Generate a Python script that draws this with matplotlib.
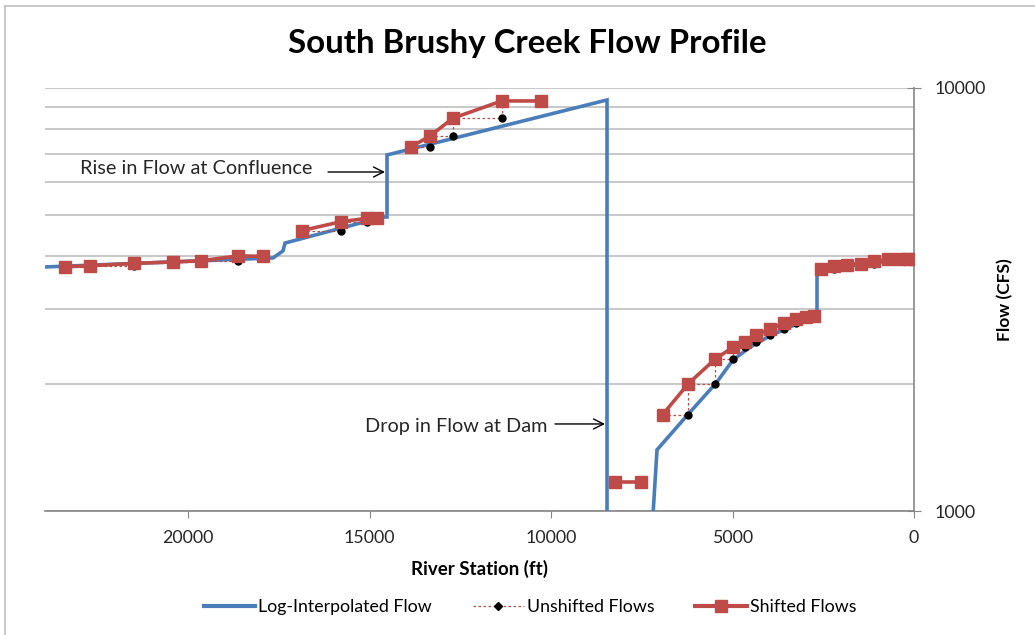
import numpy as np
import matplotlib.pyplot as plt
from matplotlib.lines import Line2D

plt.rcParams['font.family'] = ['Lato', 'DejaVu Sans']

BLUE = '#4A7EBB'
RED = '#BE4B48'

# log-interpolated flow along the river (station ft, flow cfs)
interp_station = [23940, 17658, 17383, 17328, 14628, 14518, 14518, 8457, 8457,
                  7200, 7080, 6218, 5455, 4986, 4518, 3967, 3416, 2672, 2672, 0]
interp_flow = [3775, 3965, 4120, 4300, 4955, 4955, 6945, 9370, 800,
               950, 1395, 1695, 2005, 2275, 2440, 2595, 2725, 2890, 3715, 3965]

# shifted flows, one list per reach
shifted_station = [
    [23388, 22700, 21479, 20405, 19642, 18614, 17926],
    [16868, 15785, 15069, 14793],
    [13857, 13333, 12708, 11358, 10284],
    [8237, 7521],
    [6923, 6218, 5482, 4986, 4656, 4353, 3967, 3581, 3251, 2975, 2755],
    [2562, 2204, 1846, 1460, 1102, 716, 386, 165, 0],
]
shifted_flow = [
    [3780, 3800, 3850, 3880, 3905, 4010, 4000],
    [4600, 4830, 4920, 4920],
    [7260, 7700, 8480, 9320, 9320],
    [1170, 1170],
    [1690, 2000, 2285, 2440, 2510, 2605, 2690, 2780, 2845, 2875, 2890],
    [3735, 3795, 3825, 3845, 3890, 3940, 3950, 3950, 3950],
]

fig = plt.figure(figsize=(10.35, 6.35), dpi=100)
ax = fig.add_axes([45 / 1035, 1 - 511 / 635, (914 - 45) / 1035, (511 - 88) / 635])

ax.set_yscale('log')
ax.set_ylim(1000, 10000)
ax.set_xlim(23940, 0)

ax.plot(interp_station, interp_flow, color=BLUE, lw=2.6, zorder=3,
        solid_joinstyle='miter')

# unshifted flows: each flow sits one station downstream, drawn as a staircase
for xs, qs in zip(shifted_station, shifted_flow):
    xs = np.array(xs, dtype=float)
    qs = np.array(qs, dtype=float)
    sx = np.repeat(xs, 2)[1:]
    sq = np.repeat(qs, 2)[:-1]
    ax.plot(sx, sq, color=RED, lw=0.9, ls=(0, (2, 2)), zorder=4)
    ax.plot(xs[1:], qs[:-1], 'o', color='black', ms=5, zorder=4)

for xs, qs in zip(shifted_station, shifted_flow):
    ax.plot(xs, qs, color=RED, lw=2.6, marker='s', ms=8, zorder=5)

# annotations
ax.text(16584, 6440, 'Rise in Flow at Confluence', ha='right', va='center',
        fontsize=14.3, color='#262626')
ax.annotate('', xy=(14573, 6330), xytext=(16143, 6330),
            arrowprops=dict(arrowstyle='->', color='black', lw=1,
                            mutation_scale=18, shrinkA=0, shrinkB=0))
ax.text(10110, 1580, 'Drop in Flow at Dam', ha='right', va='center',
        fontsize=14.3, color='#262626')
ax.annotate('', xy=(8512, 1606), xytext=(9890, 1606),
            arrowprops=dict(arrowstyle='->', color='black', lw=1,
                            mutation_scale=18, shrinkA=0, shrinkB=0))

# axes styling
for side in ['left', 'top']:
    ax.spines[side].set_visible(False)
for side in ['right', 'bottom']:
    ax.spines[side].set_color('#868686')
    ax.spines[side].set_linewidth(1.2)

ax.yaxis.tick_right()
ax.yaxis.set_label_position('right')
ax.set_yticks([1000, 10000])
ax.set_yticklabels(['1000', '10000'])
ax.set_yticks([2000, 3000, 4000, 5000, 6000, 7000, 8000, 9000], minor=True)
ax.yaxis.set_minor_formatter(plt.NullFormatter())
ax.tick_params(axis='y', which='minor', length=0)
ax.tick_params(axis='y', which='major', direction='inout', length=10,
               color='#868686', labelsize=12.8, labelcolor='#262626', pad=10)
ax.grid(True, axis='y', which='both', color='#BFBFBF', lw=1.2)
ax.set_axisbelow(True)

ax.set_xticks([20000, 15000, 10000, 5000, 0])
ax.tick_params(axis='x', direction='out', length=5, color='#868686',
               labelsize=12.8, labelcolor='#262626', pad=9)

ax.set_xlabel('River Station (ft)', fontsize=13.5, fontweight='bold', labelpad=10)
ax.set_ylabel('Flow (CFS)', fontsize=12.5, fontweight='bold', labelpad=8)

fig.text(527 / 1035, 1 - 44 / 635, 'South Brushy Creek Flow Profile',
         ha='center', va='center', fontsize=23.8, fontweight='bold')

handles = [
    Line2D([], [], color=BLUE, lw=3),
    Line2D([], [], color=RED, lw=0.9, ls=(0, (2, 2)), marker='D',
           mfc='black', mec='black', ms=4),
    Line2D([], [], color=RED, lw=3, marker='s', ms=8),
]
fig.legend(handles, ['Log-Interpolated Flow', 'Unshifted Flows', 'Shifted Flows'],
           loc='center', bbox_to_anchor=(530 / 1035, 1 - 607 / 635), ncol=3,
           frameon=False, fontsize=12.8, handlelength=2.9, handletextpad=0.15,
           columnspacing=2.3)

# outer frame edges
fig.add_artist(Line2D([5 / 1035, 5 / 1035], [0, 1 - 6 / 635], color='#BFBFBF', lw=1.2))
fig.add_artist(Line2D([5 / 1035, 1], [1 - 6 / 635, 1 - 6 / 635], color='#BFBFBF', lw=1.2))

fig.savefig('out.png', dpi=100)
